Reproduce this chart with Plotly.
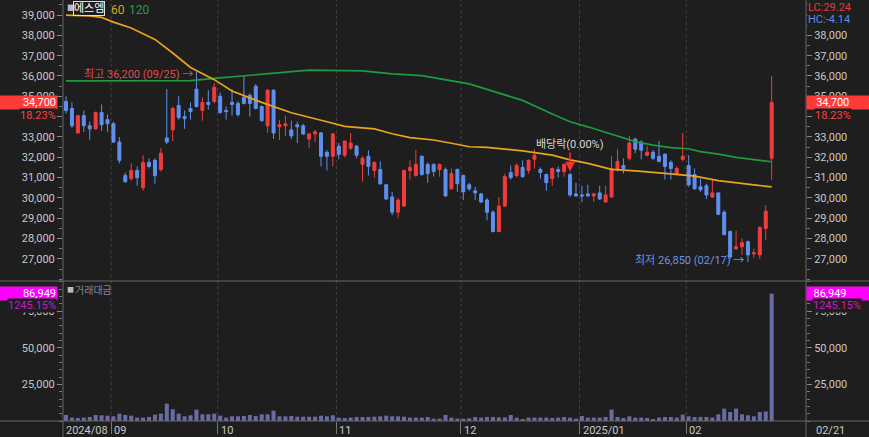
import plotly.graph_objects as go

# ---------------- data ----------------
open_ = [34750, 34400, 33200, 34050, 33550, 33400, 34200, 33850, 33650, 32750,
         31100, 30950, 31350, 30500, 31750, 31850, 31400, 32950, 33350, 34550,
         34000, 34400, 35350, 34300, 34700, 34750, 35000, 34300, 34700, 34650,
         34950, 35050, 35500, 34500, 33550, 35300, 33500, 33550, 33350, 33600,
         33550, 32900, 33150, 33200, 32250, 32050, 32550, 32100, 32450, 32550,
         31650, 32050, 31350, 31400, 30650, 30050, 29300, 29600, 31350, 31100,
         32050, 31650, 31650, 31400, 31400, 30450, 31400, 31100, 30650, 30350,
         30200, 29900, 29300, 28350, 29600, 31250, 31100, 31500, 31350, 31900,
         31400, 31150, 30950, 31400, 31300, 31150, 30200, 30150, 30200, 30100,
         30250, 29800, 30050, 31400, 31600, 31950, 32900, 32750, 32100, 32250,
         32050, 32150, 31750, 31200, 31900, 31600, 31150, 30550, 30600, 30050,
         30250, 29300, 28350, 27500, 27600, 27850, 27250, 27200, 28500, 31950]
high = [35000, 34700, 34100, 34300, 33750, 34250, 34600, 34100, 33750, 33000,
        31250, 31700, 31550, 32100, 31950, 31950, 32450, 35350, 34500, 35000,
        34300, 34700, 36200, 34950, 35300, 35650, 35200, 34500, 35350, 34750,
        36000, 35150, 35600, 34550, 35350, 35350, 33850, 34050, 33800, 33750,
        33650, 33200, 33350, 33250, 32350, 33200, 32700, 32800, 33200, 32600,
        32050, 32350, 31800, 31800, 30700, 30300, 30000, 31400, 31850, 32350,
        32100, 31750, 31700, 31700, 31500, 31450, 31450, 31150, 30750, 30550,
        30250, 30000, 29400, 30050, 31200, 31600, 31700, 31850, 31900, 32400,
        31500, 31200, 31500, 31550, 31700, 31250, 30750, 30600, 30650, 30250,
        30600, 30600, 32050, 32400, 31950, 33050, 32950, 32850, 32550, 32350,
        32800, 32200, 31850, 31550, 33200, 32100, 31450, 30950, 30700, 30900,
        30250, 29400, 28400, 28400, 28000, 27900, 27500, 28600, 29650, 36000]
low = [34150, 33450, 33150, 33250, 32850, 33350, 33300, 33250, 32700, 31700,
       30750, 30850, 30600, 30350, 31450, 30700, 31300, 32650, 32800, 33850,
       33400, 33850, 34450, 33800, 34350, 34650, 34150, 33850, 34050, 34000,
       34600, 34000, 34350, 33750, 33200, 32900, 32850, 33050, 32900, 32700,
       33100, 32450, 32750, 31550, 31350, 31550, 31900, 32000, 32350, 31950,
       30800, 31100, 31000, 30650, 29900, 29150, 29000, 29550, 30900, 31050,
       31100, 30750, 31050, 31050, 30050, 30400, 30300, 29900, 30350, 29900,
       29750, 28900, 28300, 28300, 29550, 30900, 31000, 31000, 31200, 31450,
       30950, 30350, 30600, 31000, 31050, 30050, 30050, 29800, 30050, 29800,
       29900, 29750, 30000, 31300, 31200, 31850, 32200, 31900, 32050, 31850,
       31750, 30900, 30900, 31150, 31800, 30550, 30400, 30300, 29950, 30000,
       29150, 28150, 27000, 27450, 27200, 26850, 27050, 27000, 27950, 30900]
close = [34300, 33550, 34050, 33550, 33400, 34200, 33600, 33650, 32750, 31850,
         30800, 31350, 31000, 31750, 31550, 31100, 32200, 32750, 34400, 33950,
         33900, 34250, 34500, 34700, 34600, 35450, 34200, 34250, 34600, 34100,
         34650, 34650, 34400, 33800, 35300, 33200, 33600, 33650, 33050, 33500,
         33150, 33150, 33250, 32050, 32050, 33150, 32150, 32800, 32700, 32100,
         31950, 31550, 31750, 30700, 29950, 29300, 29900, 31350, 31500, 31650,
         31150, 31200, 31300, 31650, 30100, 31200, 30700, 30300, 30450, 30250,
         29800, 29300, 28350, 29600, 31050, 31000, 31600, 31050, 31850, 32100,
         31250, 30750, 31450, 31300, 31650, 30150, 30100, 30100, 30100, 30200,
         29950, 30150, 31450, 31800, 31450, 32700, 32400, 32350, 32250, 31950,
         31800, 31550, 31450, 31450, 32050, 30650, 30450, 30400, 30150, 30250,
         29200, 28200, 27100, 27600, 27800, 27200, 27300, 28550, 29350, 34700]
volume = [4100, 2300, 2050, 2300, 2750, 4100, 3900, 3650, 3200, 5000,
          4100, 3650, 2300, 2300, 2750, 4350, 5000, 11850, 8000, 5000,
          3200, 3900, 7750, 4550, 4550, 5000, 3650, 2300, 3200, 3200,
          3400, 4100, 3400, 4550, 4550, 7050, 3200, 3200, 3400, 2950,
          2950, 2950, 2950, 3650, 3200, 3900, 2300, 2050, 2300, 2750,
          2750, 2750, 2950, 3200, 3650, 3200, 3200, 2950, 2300, 2300,
          2300, 2750, 1600, 1600, 4100, 2300, 1600, 1600, 1800, 2750,
          2300, 2750, 2750, 2500, 2500, 4100, 2300, 1350, 2300, 2300,
          2300, 2300, 2050, 2300, 2750, 2300, 1600, 3400, 2300, 2300,
          2300, 2750, 7750, 2750, 2050, 3200, 2300, 2300, 2050, 1350,
          2300, 2750, 2750, 2300, 4350, 3200, 2750, 2750, 2750, 2300,
          4550, 8450, 6150, 8450, 4550, 3900, 3200, 6150, 6464, 86949]
vol_change_pct = 1245.15

ma60_idx = [0, 4, 6, 8, 11, 15, 18, 21, 25, 28, 33, 38, 44, 47, 52, 55, 58, 62,
            65, 68, 71, 77, 82, 85, 88, 92, 96, 99, 102, 106, 110, 116, 119]
ma60_val = [38990, 38950, 38880, 38650, 38360, 37800, 37130, 36420, 35820, 35260,
            34700, 34190, 33750, 33520, 33400, 33160, 32970, 32850, 32690, 32520,
            32490, 32320, 32110, 31870, 31700, 31410, 31330, 31240, 31180, 31070,
            30850, 30640, 30550]
ma120_idx = [0, 16, 21, 25, 30, 36, 41, 50, 55, 60, 65, 68, 71, 74, 77, 82, 85,
             88, 91, 93, 96, 99, 102, 105, 107, 110, 113, 116, 119]
ma120_val = [35760, 35770, 35770, 35880, 36000, 36160, 36290, 36250, 36100, 36020,
             35770, 35610, 35340, 35060, 34800, 34130, 33750, 33500, 33230, 33050,
             32770, 32600, 32480, 32420, 32280, 32160, 32000, 31890, 31780]

first_label = "2024/08"
month_labels = ["09", "10", "11", "12", "2025/01", "02"]
month_start_idx = [8, 26, 46, 67, 87, 105]
last_label = "02/21"
high_date = "09/25"
low_date = "02/17"
div_idx = 85
div_text = "배당락(0.00%)"
stock_name = "에스엠"
price_ticks = [27000, 28000, 29000, 30000, 31000, 32000, 33000, 34000, 35000,
               36000, 37000, 38000, 39000]
price_ticks_right = [27000, 28000, 29000, 30000, 31000, 32000, 33000, 34000, 35000,
                     36000, 37000, 38000]
vol_ticks = [25000, 50000, 75000]

# ---------------- styling / geometry ----------------
W, H = 869, 437
L, R, T, B = 63, 63, 0, 16
PW, PH = W - L - R, H - T - B
SPLIT = 281  # pixel y of the panel separator
BG = "#1e1e1e"
UP, DOWN = "#f23c3c", "#5f90f0"
VOLC = "#6a6aa6"
AX = "#666666"
TXT = "#c8c8c8"
FONT = "Roboto, 'Noto Sans CJK KR', sans-serif"


def px(x):
    return (x - L) / PW


def py(y):
    return 1 - (y - T) / PH


idx = list(range(len(close)))
price_dom = [py(SPLIT), 1]
vol_dom = [0, py(SPLIT)]
price_range = [25915, 39738]
vol_range = [0, 95550]
x_range = [-0.506, 124.79]

fig = go.Figure()
fig.add_trace(go.Scatter(x=ma120_idx, y=ma120_val, mode="lines",
                         line=dict(color="#1f9a3c", width=1.7), hoverinfo="skip",
                         showlegend=False))
fig.add_trace(go.Scatter(x=ma60_idx, y=ma60_val, mode="lines",
                         line=dict(color="#e8a41c", width=1.7), hoverinfo="skip",
                         showlegend=False))
fig.add_trace(go.Candlestick(
    x=idx, open=open_, high=high, low=low, close=close,
    increasing=dict(line=dict(color=UP, width=1), fillcolor=UP),
    decreasing=dict(line=dict(color=DOWN, width=1), fillcolor=DOWN),
    whiskerwidth=0, showlegend=False, xaxis="x", yaxis="y"))
fig.add_trace(go.Bar(x=idx, y=volume, marker=dict(color=VOLC, line=dict(width=0)),
                     width=0.68, xaxis="x", yaxis="y2", showlegend=False))
# invisible helpers so that the right-hand axes are drawn
fig.add_trace(go.Scatter(x=[idx[0]], y=[close[0]], mode="markers",
                         marker=dict(opacity=0), xaxis="x", yaxis="y3",
                         hoverinfo="skip", showlegend=False))
fig.add_trace(go.Scatter(x=[idx[0]], y=[volume[0]], mode="markers",
                         marker=dict(opacity=0), xaxis="x", yaxis="y4",
                         hoverinfo="skip", showlegend=False))

yax_common = dict(tickformat=",", ticks="outside", ticklen=5, tickcolor="#888888",
                  showgrid=False, zeroline=False, showline=False,
                  tickfont=dict(size=11, color=TXT, family=FONT))

fig.update_layout(
    width=W, height=H, margin=dict(l=L, r=R, t=T, b=B),
    paper_bgcolor=BG, plot_bgcolor=BG, font=dict(family=FONT, color=TXT, size=11),
    showlegend=False, boxgap=0.28, hovermode=False,
    xaxis=dict(domain=[0, 1], anchor="y2", range=x_range, showgrid=False,
               zeroline=False, showline=False, rangeslider=dict(visible=False),
               tickvals=[m - 0.4 for m in month_start_idx], ticks="outside",
               ticklen=12, tickcolor="#777777", showticklabels=False),
    yaxis=dict(domain=price_dom, anchor="x", range=price_range, tickvals=price_ticks,
               minor=dict(dtick=500, ticks="outside", ticklen=3, tickcolor="#777777"),
               **yax_common),
    yaxis2=dict(domain=vol_dom, anchor="x", range=vol_range, tickvals=vol_ticks,
                minor=dict(dtick=5000, ticks="outside", ticklen=3, tickcolor="#777777"),
                **yax_common),
    yaxis3=dict(overlaying="y", side="right", anchor="x", range=price_range,
                tickvals=price_ticks_right,
                minor=dict(dtick=500, ticks="outside", ticklen=3, tickcolor="#777777"),
                **yax_common),
    yaxis4=dict(overlaying="y2", side="right", anchor="x", range=vol_range,
                tickvals=vol_ticks,
                minor=dict(dtick=5000, ticks="outside", ticklen=3, tickcolor="#777777"),
                **yax_common),
)

shapes = []
for m in month_start_idx:
    shapes.append(dict(type="line", xref="x", yref="paper", x0=m - 0.4, x1=m - 0.4,
                       y0=0, y1=1, line=dict(color="#444444", width=1, dash="dot"),
                       layer="below"))
# frame lines (full width / full height like the reference)
shapes.append(dict(type="line", xref="paper", yref="paper", x0=px(0), x1=px(W),
                   y0=py(SPLIT), y1=py(SPLIT), line=dict(color=AX, width=1)))
shapes.append(dict(type="line", xref="paper", yref="paper", x0=px(0), x1=px(W),
                   y0=0, y1=0, line=dict(color=AX, width=1)))
shapes.append(dict(type="line", xref="paper", yref="paper", x0=0, x1=0,
                   y0=py(H), y1=1, line=dict(color=AX, width=1)))
shapes.append(dict(type="line", xref="paper", yref="paper", x0=1, x1=1,
                   y0=py(H), y1=1, line=dict(color=AX, width=1)))
fig.update_layout(shapes=shapes)

ann = []
f11 = dict(size=11, family=FONT)
# x labels
ann.append(dict(x=x_range[0], y=0, xref="x", yref="paper", text=first_label,
                xanchor="left", yanchor="top", yshift=-1, xshift=1, showarrow=False,
                font=dict(color=TXT, **f11)))
for m, lab in zip(month_start_idx, month_labels):
    ann.append(dict(x=m - 0.4, y=0, xref="x", yref="paper", text=lab,
                    xanchor="left", yanchor="top", yshift=-1, xshift=1,
                    showarrow=False, font=dict(color=TXT, **f11)))
ann.append(dict(x=1, y=0, xref="paper", yref="paper", text=last_label,
                xanchor="left", yanchor="top", yshift=-1, xshift=8, showarrow=False,
                font=dict(color=TXT, **f11)))

# legend (price)
ann.append(dict(x=px(65), y=py(2), xref="paper", yref="paper", text="■",
                xanchor="left", yanchor="top", showarrow=False,
                font=dict(color="#bbbbbb", size=8, family=FONT)))
ann.append(dict(x=px(73), y=py(1), xref="paper", yref="paper", text=stock_name,
                xanchor="left", yanchor="top", showarrow=False, borderpad=0,
                bordercolor="#e0e0e0", borderwidth=1,
                font=dict(color="#ffffff", **f11)))
ann.append(dict(x=px(109), y=py(1), xref="paper", yref="paper", text="60",
                xanchor="left", yanchor="top", showarrow=False,
                font=dict(color="#d9a21e", size=12, family=FONT)))
ann.append(dict(x=px(127), y=py(1), xref="paper", yref="paper", text="120",
                xanchor="left", yanchor="top", showarrow=False,
                font=dict(color="#2c9c48", size=12, family=FONT)))
# legend (volume)
ann.append(dict(x=px(65), y=py(284), xref="paper", yref="paper", text="■",
                xanchor="left", yanchor="top", showarrow=False,
                font=dict(color="#bbbbbb", size=7, family=FONT)))
ann.append(dict(x=px(73), y=py(283), xref="paper", yref="paper", text="거래대금",
                xanchor="left", yanchor="top", showarrow=False,
                font=dict(color="#8282aa", size=10, family=FONT)))

# high / low markers
hi_i = max(idx, key=lambda i: high[i])
lo_i = min(idx, key=lambda i: low[i])
ann.append(dict(x=hi_i, y=high[hi_i], xref="x", yref="y",
                text=f"최고 {high[hi_i]:,} ({high_date}) →", xanchor="right",
                yanchor="middle", xshift=-1, yshift=-3, showarrow=False,
                font=dict(color="#e04a4a", **f11)))
ann.append(dict(x=lo_i, y=low[lo_i], xref="x", yref="y",
                text=f"최저 {low[lo_i]:,} ({low_date}) →", xanchor="right",
                yanchor="middle", xshift=-2, yshift=1, showarrow=False,
                font=dict(color="#6d94e4", **f11)))
# ex-dividend marker
ann.append(dict(x=div_idx, y=high[div_idx], xref="x", yref="y", text=div_text,
                showarrow=True, ax=0, ay=-28, arrowhead=2, arrowsize=1.3,
                arrowwidth=1.5, arrowcolor="#ff3030", standoff=1,
                font=dict(color="#d6d6d6", **f11)))

# last price boxes
last = close[-1]
chg = (close[-1] / close[-2] - 1) * 100
ann.append(dict(x=0, y=last, xref="paper", yref="y", text=f"{last:,}",
                xanchor="right", yanchor="middle", xshift=-5, showarrow=False,
                width=55, height=11, borderpad=1, align="right", bgcolor="#ff3a3a",
                font=dict(color="#ffffff", **f11)))
ann.append(dict(x=0, y=last, xref="paper", yref="y", text=f"{chg:.2f}%",
                xanchor="right", yanchor="middle", xshift=-6, yshift=-13,
                showarrow=False, bgcolor=BG, borderpad=0,
                font=dict(color="#ff4040", **f11)))
ann.append(dict(x=1, y=last, xref="paper", yref="y",
                text="\u00a0\u00a0\u00a0" + f"{last:,}", xanchor="left",
                yanchor="middle", xshift=0, showarrow=False, width=61, height=11,
                borderpad=1, align="left", bgcolor="#ff3a3a",
                font=dict(color="#ffffff", **f11)))
ann.append(dict(x=1, y=last, xref="paper", yref="y", text=f"{chg:.2f}%",
                xanchor="left", yanchor="middle", xshift=8, yshift=-13,
                showarrow=False, bgcolor=BG, borderpad=0,
                font=dict(color="#ff4040", **f11)))

# last volume boxes
lv = volume[-1]
ann.append(dict(x=0, y=lv, xref="paper", yref="y2", text=f"{lv:,}",
                xanchor="right", yanchor="middle", xshift=-5, showarrow=False,
                width=55, height=11, borderpad=1, align="right", bgcolor="#ff00ff",
                font=dict(color="#ffffff", **f11)))
ann.append(dict(x=0, y=lv, xref="paper", yref="y2", text=f"{vol_change_pct:.2f}%",
                xanchor="right", yanchor="middle", xshift=-6, yshift=-12,
                showarrow=False, bgcolor=BG, borderpad=0,
                font=dict(color="#c21ec2", **f11)))
ann.append(dict(x=1, y=lv, xref="paper", yref="y2",
                text="\u00a0\u00a0" + f"{lv:,}", xanchor="left",
                yanchor="middle", xshift=0, showarrow=False, width=61, height=11,
                borderpad=1, align="left", bgcolor="#ff00ff",
                font=dict(color="#ffffff", **f11)))
ann.append(dict(x=1, y=lv, xref="paper", yref="y2", text=f"{vol_change_pct:.2f}%",
                xanchor="left", yanchor="middle", xshift=6, yshift=-12,
                showarrow=False, bgcolor=BG, borderpad=0,
                font=dict(color="#c21ec2", **f11)))

# LC / HC
lc = (last / low[lo_i] - 1) * 100
hc = (last / high[hi_i] - 1) * 100
ann.append(dict(x=1, y=1, xref="paper", yref="paper", text=f"LC:{lc:.2f}",
                xanchor="left", yanchor="top", xshift=1, yshift=0, showarrow=False,
                bgcolor=BG, borderpad=0,
                font=dict(color="#e03c3c", **f11)))
ann.append(dict(x=1, y=1, xref="paper", yref="paper", text=f"HC:{hc:.2f}",
                xanchor="left", yanchor="top", xshift=1, yshift=-12, showarrow=False,
                bgcolor=BG, borderpad=0,
                font=dict(color="#5a8ce6", **f11)))

fig.update_layout(annotations=ann)
fig.write_html("out.html")
